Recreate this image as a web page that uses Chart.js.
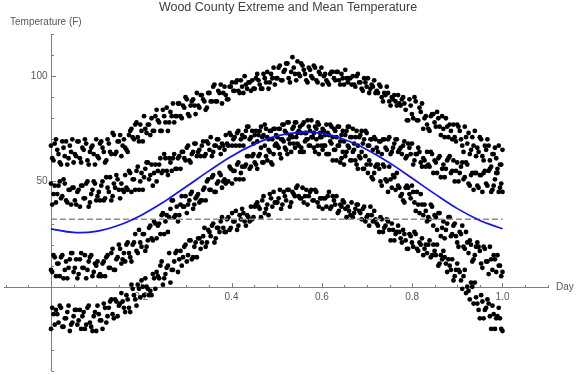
<!doctype html>
<html lang="en">
  <head>
    <meta charset="utf-8">
    <title>Wood County Extreme and Mean Temperature</title>
    <style>
      * {
        margin: 0;
        padding: 0;
      }
      body {
        background: #fff;
      }
      .chartBox {
        width: 576px;
        height: 375px;
      }
    </style>
  </head>
  <body>
    <div class="chartBox">
      <canvas id="myChart" width="576" height="375"></canvas>
    </div>
    <script src="https://cdn.jsdelivr.net/npm/chart.js/dist/chart.umd.min.js"></script>
    <script>
    // data; "A" and "B" arrays are alternate days of the year
    const titleText = 'Wood County Extreme and Mean Temperature';
    const yTitle = 'Temperature (F)';
    const xTitle = 'Day';

    const extremeHighA = [
      67, 60, 70, 63, 58, 66, 69, 61, 64, 59,
      62, 69, 59, 65, 68, 58, 66, 63, 70, 61,
      69, 64, 60, 68, 63, 72, 64, 69, 62, 70,
      65, 72, 75, 70, 78, 69, 74, 81, 73, 77,
      80, 74, 84, 78, 74, 81, 85, 78, 81, 78,
      81, 87, 80, 85, 89, 81, 88, 86, 92, 85,
      91, 88, 85, 92, 88, 96, 88, 92, 87, 95,
      89, 95, 97, 93, 98, 92, 95, 100, 94, 97,
      98, 94, 101, 96, 94, 99, 102, 97, 99, 96,
      99, 105, 98, 103, 106, 97, 109, 101, 107, 100,
      105, 101, 97, 103, 99, 104, 97, 101, 96, 101,
      97, 101, 102, 98, 102, 96, 99, 103, 97, 99,
      100, 95, 101, 97, 93, 97, 99, 94, 95, 92,
      92, 95, 88, 91, 92, 86, 89, 88, 91, 86,
      90, 84, 79, 86, 80, 88, 79, 83, 75, 81,
      75, 81, 82, 76, 80, 72, 75, 80, 71, 74,
      77, 69, 76, 70, 64, 71, 73, 65, 67, 62,
      64, 70, 60, 65, 67, 57, 63, 61, 67, 58
    ];
    const extremeHighB = [
      61, 68, 65, 59, 69, 62, 58, 67, 70, 63,
      69, 61, 66, 70, 60, 64, 67, 58, 62, 68,
      66, 59, 70, 64, 73, 63, 69, 72, 67, 66,
      64, 74, 71, 77, 71, 77, 69, 75, 77, 72,
      74, 81, 79, 74, 84, 78, 74, 83, 87, 81,
      87, 81, 86, 90, 82, 86, 89, 82, 86, 91,
      89, 84, 92, 88, 95, 88, 93, 96, 92, 91,
      89, 95, 93, 97, 93, 98, 92, 96, 97, 93,
      94, 99, 98, 94, 101, 97, 94, 101, 104, 99,
      104, 98, 102, 106, 99, 102, 104, 98, 101, 106,
      103, 98, 104, 100, 105, 98, 102, 104, 100, 98,
      96, 102, 99, 102, 98, 101, 96, 99, 99, 96,
      96, 100, 97, 94, 99, 95, 92, 96, 98, 93,
      96, 90, 92, 95, 88, 90, 91, 86, 87, 89,
      87, 79, 89, 82, 90, 79, 85, 87, 80, 77,
      74, 82, 78, 83, 76, 81, 71, 76, 77, 70,
      71, 77, 74, 67, 76, 68, 63, 71, 74, 66,
      71, 62, 67, 70, 60, 63, 66, 56, 58, 65
    ];
    const meanHighA = [
      49, 44, 40, 48, 42, 51, 41, 46, 39, 47,
      39, 46, 48, 42, 49, 38, 44, 50, 41, 45,
      48, 41, 52, 45, 41, 49, 53, 46, 49, 45,
      47, 55, 45, 51, 55, 46, 54, 52, 59, 51,
      58, 54, 50, 58, 54, 63, 55, 61, 55, 63,
      56, 62, 64, 61, 66, 60, 63, 68, 62, 65,
      67, 62, 69, 65, 62, 67, 70, 66, 68, 65,
      68, 73, 67, 71, 73, 67, 72, 71, 76, 70,
      74, 72, 69, 74, 71, 77, 71, 74, 70, 75,
      71, 75, 77, 74, 78, 72, 75, 78, 73, 76,
      77, 73, 79, 74, 71, 76, 78, 73, 75, 72,
      73, 77, 71, 74, 76, 69, 74, 72, 76, 71,
      75, 71, 67, 72, 68, 74, 67, 70, 65, 70,
      64, 69, 70, 66, 70, 63, 66, 70, 64, 66,
      67, 61, 68, 63, 58, 63, 66, 59, 61, 57,
      58, 64, 54, 59, 61, 52, 58, 56, 61, 54,
      60, 55, 50, 57, 51, 59, 49, 53, 46, 54,
      47, 53, 54, 49, 55, 45, 48, 54, 45, 49
    ];
    const meanHighB = [
      39, 48, 44, 50, 43, 49, 40, 46, 47, 41,
      45, 38, 48, 42, 50, 40, 46, 49, 43, 41,
      50, 42, 47, 52, 43, 47, 51, 42, 46, 53,
      46, 54, 51, 46, 57, 50, 46, 56, 59, 53,
      48, 58, 55, 61, 55, 61, 53, 59, 61, 56,
      61, 56, 64, 60, 67, 59, 64, 68, 64, 62,
      69, 63, 68, 71, 64, 67, 70, 63, 67, 72,
      67, 72, 70, 67, 74, 70, 67, 74, 76, 71,
      68, 74, 72, 76, 72, 75, 70, 74, 75, 72,
      75, 70, 77, 73, 78, 72, 76, 78, 74, 73,
      78, 73, 76, 79, 73, 75, 77, 71, 74, 77,
      72, 76, 75, 71, 76, 72, 69, 74, 76, 71,
      68, 74, 71, 74, 70, 73, 67, 70, 71, 66,
      69, 63, 70, 65, 71, 64, 68, 70, 65, 63,
      69, 62, 66, 68, 60, 63, 64, 57, 60, 64,
      57, 63, 60, 54, 62, 56, 52, 60, 62, 55,
      50, 59, 54, 59, 52, 58, 48, 54, 54, 48,
      53, 45, 55, 48, 56, 46, 51, 54, 47, 45
    ];
    const meanLowA = [
      8, 15, 5, 11, 14, 4, 12, 9, 16, 7,
      13, 6, 16, 9, 4, 12, 15, 7, 10, 5,
      5, 12, 14, 9, 16, 8, 13, 20, 11, 16,
      20, 16, 12, 21, 17, 27, 19, 25, 19, 28,
      23, 31, 23, 30, 34, 25, 34, 33, 41, 33,
      38, 34, 43, 38, 35, 41, 45, 39, 43, 40,
      41, 47, 50, 46, 52, 45, 49, 54, 47, 51,
      50, 57, 49, 55, 58, 51, 57, 57, 62, 56,
      62, 59, 56, 63, 59, 67, 60, 64, 58, 67,
      67, 63, 70, 66, 63, 68, 71, 66, 68, 64,
      64, 69, 70, 67, 71, 64, 67, 71, 65, 67,
      63, 69, 60, 65, 67, 59, 64, 62, 67, 60,
      64, 60, 56, 61, 56, 62, 54, 58, 51, 57,
      58, 50, 58, 51, 45, 51, 53, 46, 48, 43,
      41, 47, 47, 42, 45, 36, 39, 44, 34, 36,
      33, 39, 29, 33, 35, 24, 31, 27, 33, 24,
      29, 24, 19, 25, 19, 26, 16, 20, 13, 19,
      19, 11, 19, 12, 6, 13, 15, 7, 10, 5
    ];
    const meanLowB = [
      7, 14, 11, 5, 15, 8, 4, 13, 16, 9,
      4, 13, 9, 15, 8, 14, 5, 11, 12, 6,
      11, 5, 15, 9, 18, 8, 14, 18, 13, 12,
      21, 14, 20, 25, 16, 21, 25, 17, 22, 29,
      22, 30, 29, 25, 35, 31, 26, 37, 41, 34,
      31, 39, 38, 43, 39, 44, 37, 42, 44, 41,
      46, 41, 51, 46, 53, 45, 50, 53, 50, 49,
      50, 56, 55, 51, 59, 54, 51, 58, 62, 57,
      63, 58, 62, 66, 59, 62, 65, 59, 63, 68,
      66, 61, 69, 65, 70, 64, 68, 71, 67, 66,
      64, 70, 67, 71, 66, 70, 63, 67, 67, 63,
      63, 68, 65, 60, 67, 61, 58, 64, 66, 60,
      65, 58, 62, 64, 56, 58, 60, 52, 54, 58,
      56, 48, 57, 50, 57, 47, 52, 54, 47, 44,
      40, 48, 44, 48, 40, 45, 35, 39, 39, 31,
      32, 38, 34, 27, 35, 28, 23, 30, 33, 25,
      30, 21, 26, 29, 18, 21, 22, 12, 15, 21,
      17, 9, 18, 12, 19, 8, 13, 15, 10, 7
    ];
    const extremeLowA = [
      -20, -13, -11, -17, -10, -19, -15, -9, -18, -14,
      -11, -16, -20, -12, -18, -9, -19, -14, -21, -13,
      -16, -8, -17, -10, -6, -15, -7, -9, -3, -10,
      -4, -10, 1, -4, -9, -1, 3, -4, 0, -4,
      -4, 4, 7, 4, 12, 4, 9, 16, 8, 12,
      17, 13, 10, 19, 12, 22, 13, 19, 14, 23,
      21, 28, 21, 26, 29, 21, 28, 26, 33, 26,
      32, 27, 35, 31, 27, 34, 37, 31, 34, 31,
      32, 38, 40, 37, 41, 35, 39, 44, 38, 40,
      40, 46, 39, 43, 46, 38, 45, 43, 48, 42,
      47, 43, 39, 45, 41, 46, 40, 42, 37, 42,
      43, 37, 43, 39, 35, 39, 41, 37, 38, 34,
      33, 37, 39, 35, 37, 31, 34, 38, 31, 32,
      29, 33, 26, 29, 31, 22, 27, 25, 29, 23,
      27, 22, 18, 24, 19, 25, 17, 20, 15, 20,
      20, 14, 20, 15, 10, 15, 17, 11, 13, 8,
      3, 8, 8, 3, 5, -3, -2, 2, -8, -5,
      -11, -4, -15, -10, -8, -20, -13, -15, -10, -20
    ];
    const extremeLowB = [
      -10, -18, -13, -9, -19, -15, -12, -21, -17, -11,
      -18, -11, -14, -20, -10, -17, -21, -12, -9, -16,
      -20, -10, -14, -7, -13, -6, -14, -8, -7, -12,
      -6, -12, -1, -6, 1, -5, 0, 4, -1, -2,
      6, -1, 5, 10, 1, 6, 10, 2, 8, 16,
      7, 17, 14, 20, 15, 22, 14, 21, 23, 18,
      24, 19, 27, 24, 30, 23, 28, 31, 28, 26,
      33, 28, 31, 36, 29, 32, 35, 29, 33, 38,
      33, 39, 38, 33, 43, 37, 34, 42, 45, 40,
      42, 37, 45, 41, 46, 40, 44, 47, 43, 42,
      40, 46, 43, 46, 41, 45, 38, 42, 42, 38,
      45, 38, 41, 43, 36, 38, 40, 33, 36, 40,
      35, 39, 36, 32, 38, 33, 29, 34, 36, 30,
      26, 32, 28, 32, 27, 30, 22, 26, 26, 21,
      25, 18, 25, 21, 26, 18, 21, 23, 18, 16,
      22, 15, 17, 20, 11, 13, 14, 7, 10, 13,
      5, 11, 7, -1, 8, 0, -6, 0, 2, -8,
      -15, -7, -11, -6, -14, -9, -20, -14, -15, -21
    ];

    // fitted mean curve, read at steps of 0.05
    const fitDay = [0, 0.05, 0.1, 0.15, 0.2, 0.25, 0.3, 0.35, 0.4, 0.45, 0.5,
                    0.55, 0.6, 0.65, 0.7, 0.75, 0.8, 0.85, 0.9, 0.95, 1];
    const fitTemp = [27.5, 25.8, 26.3, 29.2, 34.0, 40.3, 47.6, 55.0, 62.0, 67.6, 71.6,
                     73.3, 72.8, 69.9, 65.1, 58.8, 51.5, 44.1, 37.1, 31.5, 27.5];
    const freezing = 32;

    const xTickLabels = [0.2, 0.4, 0.6, 0.8, 1.0];
    const yTickLabels = [50, 100];

    // setup
    const interleave = (a, b) => a.flatMap((v, i) => [v, b[i]]);
    const toPoints = arr => arr.map((v, i) => ({ x: i / (arr.length - 1), y: v }));
    const dotStyle = {
      showLine: false,
      pointRadius: 2.4,
      pointBackgroundColor: '#000',
      pointBorderWidth: 0,
      order: 2
    };

    const data = {
      datasets: [
        {
          label: 'fit',
          data: fitDay.map((d, i) => ({ x: d, y: fitTemp[i] })),
          showLine: true,
          borderColor: 'rgb(20, 20, 235)',
          borderWidth: 1.7,
          pointRadius: 0,
          tension: 0.4,
          order: 0
        },
        {
          label: 'freezing',
          data: [{ x: 0, y: freezing }, { x: 1, y: freezing }],
          showLine: true,
          borderColor: '#8c8c8c',
          borderWidth: 1.5,
          borderDash: [6, 3],
          pointRadius: 0,
          order: 1
        },
        { label: 'Extreme high', data: toPoints(interleave(extremeHighA, extremeHighB)), ...dotStyle },
        { label: 'Mean high', data: toPoints(interleave(meanHighA, meanHighB)), ...dotStyle },
        { label: 'Mean low', data: toPoints(interleave(meanLowA, meanLowB)), ...dotStyle },
        { label: 'Extreme low', data: toPoints(interleave(extremeLowA, extremeLowB)), ...dotStyle }
      ]
    };

    // Mathematica-like axes crossing at the origin
    const axesPlugin = {
      id: 'mmaAxes',
      beforeDatasetsDraw(chart) {
        const { ctx } = chart;
        const xs = chart.scales.x;
        const ys = chart.scales.y;
        const ox = Math.round(xs.getPixelForValue(0)) + 0.5;
        const oy = Math.round(ys.getPixelForValue(0)) + 0.5;
        ctx.save();
        ctx.strokeStyle = '#7d7d7d';
        ctx.lineWidth = 1;
        ctx.beginPath();
        ctx.moveTo(xs.left, oy);
        ctx.lineTo(xs.right, oy);
        ctx.moveTo(ox, ys.top);
        ctx.lineTo(ox, ys.bottom);
        for (let k = -2; k <= 22; k++) {
          const v = k * 0.05;
          if (k === 0 || v < xs.min || v > xs.max) continue;
          const px = Math.round(xs.getPixelForValue(v)) + 0.5;
          const len = k % 4 === 0 ? 4.5 : 2.5;
          ctx.moveTo(px, oy);
          ctx.lineTo(px, oy - len);
        }
        for (let v = -40; v <= 120; v += 10) {
          if (v === 0) continue;
          const py = Math.round(ys.getPixelForValue(v)) + 0.5;
          const len = v % 50 === 0 ? 4.5 : 2.5;
          ctx.moveTo(ox, py);
          ctx.lineTo(ox + len, py);
        }
        ctx.stroke();

        ctx.fillStyle = '#595959';
        ctx.font = '10px "Liberation Sans", Arial, sans-serif';
        ctx.textBaseline = 'middle';
        ctx.textAlign = 'center';
        xTickLabels.forEach(v => ctx.fillText(v.toFixed(1), xs.getPixelForValue(v), oy + 10));
        ctx.textAlign = 'right';
        yTickLabels.forEach(v => ctx.fillText(String(v), ox - 4, ys.getPixelForValue(v)));
        ctx.textAlign = 'left';
        ctx.fillText(xTitle, xs.right + 7, oy);
        ctx.fillText(yTitle, 10, 22);

        ctx.fillStyle = '#404040';
        ctx.font = '12.5px "Liberation Sans", Arial, sans-serif';
        ctx.textAlign = 'center';
        ctx.fillText(titleText, chart.width / 2, 8);
        ctx.restore();
      }
    };

    // config
    const config = {
      type: 'scatter',
      data,
      options: {
        responsive: false,
        animation: false,
        devicePixelRatio: 1,
        layout: { padding: { left: 0, right: 27, top: 34, bottom: 1 } },
        scales: {
          x: { type: 'linear', min: -0.104, max: 1.103, display: false },
          y: { type: 'linear', min: -40, max: 120, display: false }
        },
        plugins: {
          legend: { display: false },
          tooltip: { enabled: false }
        }
      },
      plugins: [axesPlugin]
    };

    // render init block
    const myChart = new Chart(document.getElementById('myChart'), config);
    </script>
  </body>
</html>
